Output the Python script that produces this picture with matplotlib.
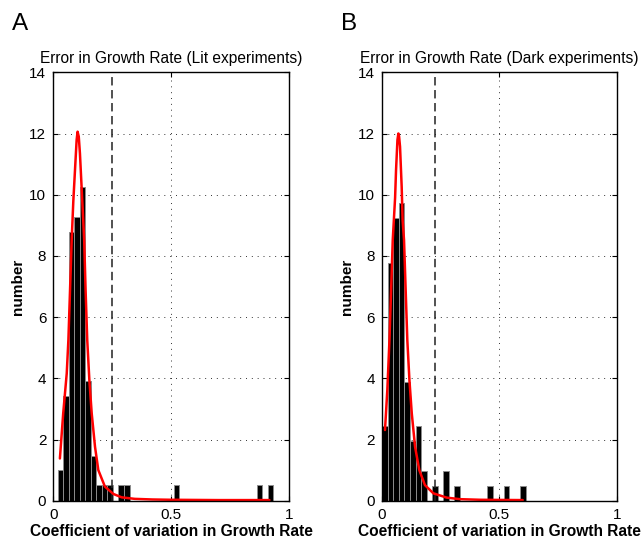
import numpy as np
import matplotlib
matplotlib.use("Agg")
import matplotlib.pyplot as plt

plt.rcParams['font.family'] = ['Liberation Sans', 'DejaVu Sans']

# ---- Data ----
lit_bin_start = 0.0184
lit_bin_width = 0.02347
lit_heights = [1.0, 3.42, 8.79, 9.28, 10.25, 3.91, 1.46, 0.5, 0.5, 0.5,
               0, 0.5, 0.5, 0, 0, 0, 0, 0, 0, 0,
               0, 0.5, 0, 0, 0, 0, 0, 0, 0, 0,
               0, 0, 0, 0, 0, 0, 0.5, 0, 0.5]
lit_fit_x = [0.028, 0.042, 0.057, 0.064, 0.071, 0.078, 0.085, 0.092, 0.099,
             0.103, 0.108, 0.113, 0.120, 0.127, 0.131, 0.137, 0.144, 0.153,
             0.163, 0.177, 0.191, 0.219, 0.255, 0.290, 0.346, 0.42, 0.5,
             0.6, 0.7, 0.8, 0.917]
lit_fit_y = [1.38, 2.85, 4.16, 5.25, 6.88, 8.52, 9.8, 10.8, 11.79,
             12.06, 11.9, 11.35, 10.26, 9.17, 8.52, 6.88, 5.25, 3.94,
             2.85, 1.76, 1.0, 0.46, 0.22, 0.11, 0.06, 0.04, 0.03,
             0.025, 0.02, 0.02, 0.02]
lit_threshold = 0.249

dark_bin_start = 0.0028
dark_bin_width = 0.02351
dark_heights = [2.44, 7.78, 9.23, 9.72, 3.89, 1.95, 2.44, 0.98, 0, 0.49,
                0, 0.98, 0, 0.49, 0, 0, 0, 0, 0, 0.49,
                0, 0, 0.49, 0, 0, 0.49]
dark_fit_x = [0.014, 0.024, 0.033, 0.040, 0.047, 0.057, 0.061, 0.067, 0.071,
              0.074, 0.078, 0.085, 0.089, 0.095, 0.102, 0.109, 0.118, 0.128,
              0.142, 0.160, 0.184, 0.220, 0.277, 0.333, 0.42, 0.5, 0.6]
dark_fit_y = [2.31, 3.62, 5.25, 6.88, 8.52, 9.9, 10.8, 11.79, 12.0,
              11.9, 11.57, 10.26, 9.17, 8.52, 6.88, 5.25, 3.94, 2.85,
              1.76, 1.0, 0.51, 0.24, 0.10, 0.05, 0.03, 0.025, 0.02]
dark_threshold = 0.227

titles = ["Error in Growth Rate (Lit experiments)",
          "Error in Growth Rate (Dark experiments)"]
panel_letters = ["A", "B"]
xlabel = "Coefficient of variation in Growth Rate"
ylabel = "number"
xticks = [0, 0.5, 1]
xticklabels = ["0", "0.5", "1"]
yticks = [0, 2, 4, 6, 8, 10, 12, 14]

# ---- Figure ----
W, H = 641, 542
fig = plt.figure(figsize=(W / 100, H / 100), dpi=100)

axes_px = [(53.3, 72.3, 289.0, 500.7), (381.7, 72.3, 616.7, 500.7)]
datasets = [
    (lit_bin_start, lit_bin_width, lit_heights, lit_fit_x, lit_fit_y, lit_threshold),
    (dark_bin_start, dark_bin_width, dark_heights, dark_fit_x, dark_fit_y, dark_threshold),
]

for i, ((x0, y0, x1, y1), (bstart, bwidth, heights, fx, fy, thr)) in enumerate(zip(axes_px, datasets)):
    ax = fig.add_axes([x0 / W, 1 - y1 / H, (x1 - x0) / W, (y1 - y0) / H])
    edges = bstart + bwidth * np.arange(len(heights))
    ax.bar(edges, heights, width=bwidth, align='edge', color='black',
           edgecolor='#8c8c8c', linewidth=0.7, zorder=2)
    ax.plot(fx, fy, color='#ff0000', linewidth=1.8, zorder=4,
            solid_joinstyle='round', solid_capstyle='round')
    ax.axvline(thr, color='#222222', linewidth=1.1, linestyle=(0, (5.5, 3.0)), zorder=3)

    ax.set_xlim(0, 1)
    ax.set_ylim(0, 14)
    ax.set_xticks(xticks)
    ax.set_xticklabels(xticklabels)
    ax.set_yticks(yticks)
    ax.grid(True, color='#333333', linestyle=(0, (1, 5)), linewidth=0.7, zorder=1)
    ax.set_axisbelow(True)
    ax.tick_params(direction='in', length=3.5, width=0.8, top=True, right=True,
                   labelsize=11, pad=5)
    for sp in ax.spines.values():
        sp.set_linewidth(1.0)
        sp.set_zorder(5)

    ax.set_title(titles[i], fontsize=11.2, pad=7)
    ax.set_xlabel(xlabel, fontsize=11.2, fontweight='bold', labelpad=2)
    ax.set_ylabel(ylabel, fontsize=11, fontweight='bold', labelpad=3)

    fig.text((x0 - 41) / W, 1 - 24 / H, panel_letters[i], fontsize=17.5,
             ha='left', va='center')

fig.savefig("out.png", dpi=100)
